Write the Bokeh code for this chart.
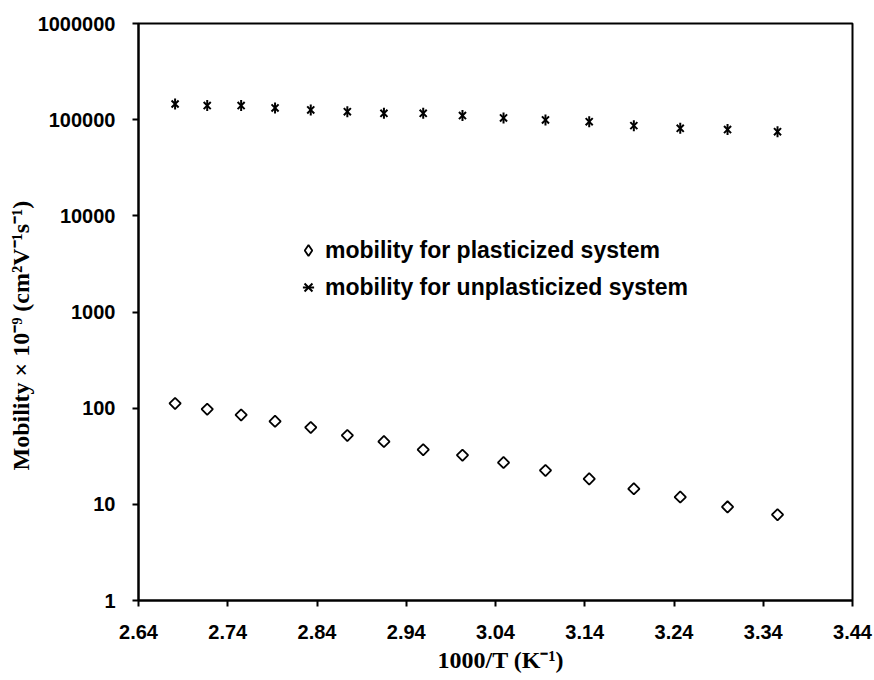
import numpy as np
from bokeh.plotting import figure
from bokeh.models import (FixedTicker, CustomJSTickFormatter, Legend, LegendItem, Range1d,
                          Title)
from bokeh.embed import file_html
from bokeh.resources import INLINE

# 1000/T values (K^-1)
inv_T = [2.681, 2.717, 2.755, 2.793, 2.833, 2.874, 2.915, 2.959,
         3.003, 3.049, 3.096, 3.145, 3.195, 3.247, 3.300, 3.356]
# mobility x 10^-9 (cm^2 V^-1 s^-1)
mob_plasticized = [112, 97.5, 85, 73, 63, 52, 45, 37,
                   32.4, 27.2, 22.5, 18.4, 14.5, 11.9, 9.4, 7.8]
mob_unplasticized = [145600, 140000, 140000, 132400, 126200, 121200, 116400, 116400,
                     110200, 104300, 99400, 95400, 86700, 81300, 78800, 75000]

x_ticks = [2.64, 2.74, 2.84, 2.94, 3.04, 3.14, 3.24, 3.34, 3.44]
y_ticks = [1, 10, 100, 1000, 10000, 100000, 1000000]

label_plast = "mobility for plasticized system"
label_unplast = "mobility for unplasticized system"
x_title = "1000/T (K\u207b\u00b9)"
y_title = "Mobility \u00d7 10\u207b\u2079 (cm\u00b2V\u207b\u00b9s\u207b\u00b9)"

p = figure(width=874, height=680, output_backend="svg", toolbar_location=None,
           y_axis_type="log",
           x_range=Range1d(x_ticks[0], x_ticks[-1]),
           y_range=Range1d(y_ticks[0], y_ticks[-1]),
           min_border_left=138, min_border_right=22,
           min_border_top=23, min_border_bottom=80)

p.background_fill_color = "white"
p.border_fill_color = "white"
p.outline_line_color = "black"
p.outline_line_width = 2
p.xgrid.visible = False
p.ygrid.visible = False

r_pl = p.scatter(inv_T, mob_plasticized, marker="square", angle=np.pi / 4, size=8,
                 fill_color=None, line_color="black", line_width=1.8)
r_un1 = p.scatter(inv_T, mob_unplasticized, marker="x", size=10,
                  line_color="black", line_width=2)
r_un2 = p.scatter(inv_T, mob_unplasticized, marker="dash", angle=np.pi / 2, size=11,
                  line_color="black", line_width=2)
# hidden twin of the plasticized series, used only to draw an upright diamond key
r_pl_key = p.scatter(inv_T, mob_plasticized, marker="diamond", size=8,
                     fill_color=None, line_color="black", line_width=1.8, visible=False)

p.xaxis.ticker = FixedTicker(ticks=x_ticks, minor_ticks=[])
p.yaxis.ticker = FixedTicker(ticks=y_ticks, minor_ticks=[])
p.xaxis.formatter = CustomJSTickFormatter(code="return tick.toFixed(2)")
p.yaxis.formatter = CustomJSTickFormatter(code="return tick.toFixed(0)")

for ax in (p.xaxis, p.yaxis):
    ax.axis_line_width = 2
    ax.axis_line_color = "black"
    ax.major_tick_in = 0
    ax.major_tick_out = 6
    ax.major_tick_line_width = 2
    ax.minor_tick_line_color = None
    ax.major_label_text_font = "Liberation Sans"
    ax.major_label_text_font_style = "bold"
    ax.major_label_text_font_size = "20px"
    ax.major_label_text_color = "black"

p.xaxis.major_label_standoff = 18
p.yaxis.major_label_standoff = 17

title_style = dict(text_font="Liberation Serif", text_font_style="bold",
                   text_font_size="24px", text_color="black")
p.add_layout(Title(text=x_title, align="left", offset=299, vertical_align="middle",
                   standoff=8, **title_style), "below")
p.add_layout(Title(text=y_title, align="left", offset=130, vertical_align="middle",
                   standoff=0, **title_style), "left")

legend = Legend(items=[LegendItem(label=label_plast, renderers=[r_pl_key]),
                       LegendItem(label=label_unplast, renderers=[r_un1, r_un2])],
                location=(156, 299), orientation="vertical")
legend.click_policy = "none"
legend.border_line_alpha = 0
legend.background_fill_alpha = 0
legend.padding = 0
legend.margin = 0
legend.spacing = 9
legend.glyph_width = 28
legend.glyph_height = 28
legend.label_standoff = 3
legend.label_text_font = "Liberation Sans"
legend.label_text_font_style = "bold"
legend.label_text_font_size = "23px"
legend.label_text_color = "black"
p.add_layout(legend, "center")

open("out.html", "w").write(file_html(p, INLINE))
